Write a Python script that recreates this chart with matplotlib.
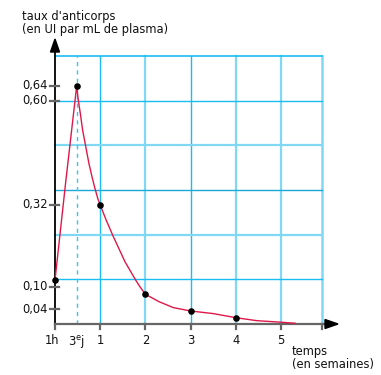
import numpy as np
import matplotlib
matplotlib.use("Agg")
from matplotlib import pyplot as plt
from matplotlib.patches import Polygon

# données (temps en semaines, taux en UI/mL)
pts_x = [0, 0.48, 1, 2, 3, 4]
pts_y = [0.118, 0.64, 0.32, 0.08, 0.035, 0.017]

curve_x = [0, 0.24, 0.48, 0.515, 0.56, 0.61, 0.68, 0.75, 0.82, 0.885, 0.95, 1.0,
           1.13, 1.29, 1.55, 1.785, 1.88, 2.0, 2.3, 2.62, 3.0, 3.5, 4.0, 4.46, 4.98, 5.31]
curve_y = [0.118, 0.385, 0.64, 0.602, 0.566, 0.522, 0.477, 0.432, 0.395, 0.364, 0.336, 0.32,
           0.28, 0.235, 0.167, 0.118, 0.1, 0.08, 0.06, 0.044, 0.035, 0.028, 0.017, 0.009, 0.005, 0.002]

ytick_vals = [0.04, 0.10, 0.32, 0.60, 0.64]
ytick_labels = ['0,04', '0,10', '0,32', '0,60', '0,64']
xtick_vals = [0, 0.48, 1, 2, 3, 4, 5]
xtick_labels = ['1h', r'3$^\mathregular{e}$j', '1', '2', '3', '4', '5']

# pixel -> data
X0, Y0, SX, SY = 55, 324, 45.2, 372.0
def dx(p): return (p - X0) / SX
def dy(p): return (Y0 - p) / SY

fs = 8.3
fig = plt.figure(figsize=(3.81, 3.75), dpi=100)
ax = fig.add_axes([0, 0, 1, 1])
ax.set_xlim(dx(0), dx(381))
ax.set_ylim(dy(375), dy(0))
ax.axis('off')

xmax = dx(322)
ymax = 0.72
blue = '#19bdf0'
light = '#80d8f5'

# grille
for v, c, w in [(1, blue, 1.0), (2, light, 1.6), (3, blue, 1.0), (4, light, 1.6),
                (5, light, 1.6), (xmax, light, 1.8)]:
    ax.plot([v, v], [0, ymax], color=c, lw=w, zorder=1)
for v, c, w in [(0.12, blue, 1.0), (0.24, light, 1.6), (0.36, '#1aa8d8', 1.0),
                (0.48, light, 1.6), (0.60, blue, 1.0), (0.72, blue, 1.2)]:
    ax.plot([0, xmax], [v, v], color=c, lw=w, zorder=1)

# pointillé 3e jour
ax.plot([0.48, 0.48], [0, ymax], color='#33c6f2', lw=1.0, ls=(0, (3, 3)), zorder=2)

# axes
ax.plot([0, dx(326)], [0, 0], color='#666666', lw=1.6, zorder=3)
ax.plot([0, 0], [0, dy(50)], color='black', lw=1.3, zorder=3)
ax.add_patch(Polygon([[dx(325), dy(319.5)], [dx(338), dy(324)], [dx(325), dy(328.5)]],
                     closed=True, color='black', zorder=4))
ax.add_patch(Polygon([[dx(50.5), dy(52)], [dx(55), dy(39)], [dx(59.5), dy(52)]],
                     closed=True, color='black', zorder=4))

# graduations
for v, lab in zip(ytick_vals, ytick_labels):
    ax.plot([dx(50), dx(59)], [v, v], color='#666666', lw=1.6, zorder=3)
    ax.text(dx(48), v, lab, ha='right', va='center', fontsize=fs, color='#111111')
for v in [0, 1, 2, 3, 4, 5, xmax]:
    ax.plot([v, v], [0, dy(329)], color='#666666', lw=1.6, zorder=3)
for v, lab in zip(xtick_vals, xtick_labels):
    xo = -0.07 if lab == '1h' else 0
    ax.text(v + xo, dy(341), lab, ha='center', va='center', fontsize=fs, color='#111111')

# courbe
ax.plot(curve_x, curve_y, color='#e0184a', lw=1.0, zorder=5, solid_joinstyle='round')
ax.scatter(pts_x, pts_y, s=14, color='black', zorder=6)

# titres
ax.text(dx(22), dy(16.5), "taux d'anticorps", ha='left', va='center', fontsize=fs, color='#111111')
ax.text(dx(22), dy(29.5), "(en UI par mL de plasma)", ha='left', va='center', fontsize=fs, color='#111111')
ax.text(dx(292), dy(352), "temps", ha='left', va='center', fontsize=fs, color='#111111')
ax.text(dx(292), dy(364.5), "(en semaines)", ha='left', va='center', fontsize=fs, color='#111111')

fig.savefig('out.png', dpi=100)
